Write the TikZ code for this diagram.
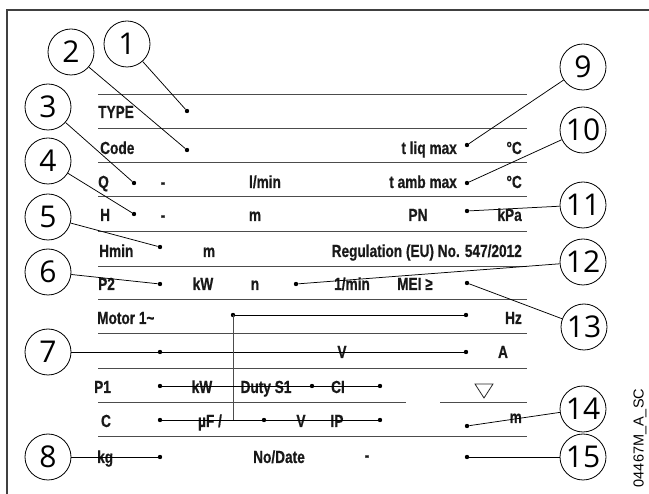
\documentclass[tikz,border=0pt]{standalone}
\usepackage{fontspec}
\setmainfont{Liberation Sans}
\newfontfamily\lblfam{Liberation Sans Bold}[FakeStretch=0.78, FakeBold=0.6]
\newfontfamily\numfam{Open Sans}
\newfontfamily\codefam{Liberation Sans}
\newcommand{\lblfont}{\lblfam\fontsize{17.5}{17.5}\selectfont}
\newcommand{\numfont}{\numfam\fontsize{30}{30}\selectfont}
\newcommand{\codefont}{\codefam\fontsize{14.5}{14.5}\selectfont}
\begin{document}
\begin{tikzpicture}[x=1pt,y=-1pt,
  lbl/.style={font=\lblfont, inner sep=0pt, text=black!90},
  lw/.style={lbl, anchor=base west},
  le/.style={lbl, anchor=base east},
  lc/.style={lbl, anchor=base},
  num/.style={circle, draw, minimum size=46pt, inner sep=0pt, font=\numfont, line width=0.8pt},
  dotn/.style={circle, fill, inner sep=0pt, minimum size=4.4pt},
  rowline/.style={line width=1pt, black!70},
  lead/.style={line width=0.75pt, black},
  frameline/.style={line width=2.6pt, black!75}
]
\useasboundingbox (0,0) rectangle (649,494);
% frame
\coordinate (fTL) at (7,10);
\coordinate (fBL) at (7,494);
\coordinate (fTR) at (649,10);
\draw[frameline] (fBL) -- (fTL) -- (fTR);

% row lines
\foreach \yy [count=\i] in {95,129,163,197,232,267,300,334,369,437} {
  \coordinate (rl\i) at (98,\yy);
  \coordinate (rr\i) at (527,\yy);
  \draw[rowline] (rl\i) -- (rr\i);
}
\coordinate (sA) at (98,403);
\coordinate (sB) at (406,403);
\coordinate (sC) at (440,403);
\coordinate (sD) at (527,403);
\draw[rowline] (sA) -- (sB);
\draw[rowline] (sC) -- (sD);

% texts
\node[lw] (tType) at (98,118) {TYPE};
\node[lw] (tCode) at (100,154) {Code};
\node[le] (tLiq) at (457,154) {t liq max};
\node[le] (tLiqC) at (522,154) {°C};

\node[lw] (tQ) at (98,188) {Q};
\node[lc] (tQd) at (163,188) {-};
\node[lc] (tQu) at (265,188) {l/min};
\node[le] (tAmb) at (457,188) {t amb max};
\node[le] (tAmbC) at (522,188) {°C};

\node[lw] (tH) at (100,221) {H};
\node[lc] (tHd) at (163,221) {-};
\node[lc] (tHm) at (255,221) {m};
\node[lc] (tPN) at (418,221) {PN};
\node[le] (tkPa) at (522,221) {kPa};

\node[lw] (tHmin) at (99,257) {Hmin};
\node[lc] (tHminm) at (209,257) {m};
\node[le] (tReg) at (522,257) {Regulation (EU) No. 547/2012};

\node[lw] (tP2) at (98,290) {P2};
\node[lc] (tP2kW) at (203,290) {kW};
\node[lc] (tn) at (255,290) {n};
\node[lc] (tnu) at (352,290) {1/min};
\node[lw] (tMEI) at (397,290) {MEI ≥};

\node[lw] (tMotor) at (97,324) {Motor 1\char`\~};
\node[le] (tHz) at (522,324) {Hz};

\node[lc] (tV7) at (342,358) {V};
\node[lc] (tA) at (503,358) {A};

\node[lw] (tP1) at (94,393) {P1};
\node[lc] (tP1kW) at (202,393) {kW};
\node[lc] (tDuty) at (266,393) {Duty S1};
\node[lc] (tCI) at (338,393) {CI};

\node[lc] (tC) at (106,427) {C};
\node[lc] (tuF) at (210,427) {µF /};
\node[lc] (tCV) at (301,427) {V};
\node[lc] (tIP) at (337,427) {IP};
\node[le] (tm14) at (522,423) {m};

\node[lw] (tkg) at (97,463) {kg};
\node[lc] (tNo) at (279,463) {No/Date};
\node[lc] (tNod) at (367,461) {-};

% triangle symbol
\draw[line width=0.8pt, black!85] (475,384) -- (493,384) -- (484,398) -- cycle;

% rotated code
\node[rotate=90, font=\codefont, inner sep=0pt] (tcode) at (640,438) {04467M\_A\_SC};

% circles
\node[num] (c1) at (127,44) {1};
\node[num] (c2) at (71,52) {2};
\node[num] (c3) at (48,107) {3};
\node[num] (c4) at (48,161) {4};
\node[num] (c5) at (48,217) {5};
\node[num] (c6) at (48,272) {6};
\node[num] (c7) at (48,352) {7};
\node[num] (c8) at (48,457) {8};
\node[num] (c9) at (583,67) {9};
\node[num] (c10) at (583,130) {10};
\node[num] (c11) at (583,205) {11};
\node[num] (c12) at (583,262) {12};
\node[num] (c13) at (584,327) {13};
\node[num] (c14) at (583,409) {14};
\node[num] (c15) at (583,457) {15};

% dots
\node[dotn] (d1) at (187,111) {};
\node[dotn] (d2) at (187,150) {};
\node[dotn] (d3) at (134,183) {};
\node[dotn] (d4) at (134,214) {};
\node[dotn] (d5) at (160,247) {};
\node[dotn] (d6) at (160,284) {};
\node[dotn] (d7a) at (160,352) {};
\node[dotn] (d7b) at (466,352) {};
\node[dotn] (d8) at (160,457) {};
\node[dotn] (d9) at (467,145) {};
\node[dotn] (d10) at (467,183) {};
\node[dotn] (d11) at (467,211) {};
\node[dotn] (d12) at (296,284) {};
\node[dotn] (d13) at (467,283) {};
\node[dotn] (d14) at (467,426) {};
\node[dotn] (d15) at (467,457) {};
\node[dotn] (dM1) at (233,315) {};
\node[dotn] (dM2) at (466,315) {};
\node[dotn] (dP1a) at (160,386) {};
\node[dotn] (dP1b) at (312,386) {};
\node[dotn] (dP1c) at (380,386) {};
\node[dotn] (dCa) at (160,420) {};
\node[dotn] (dCb) at (264,420) {};
\node[dotn] (dCc) at (380,420) {};
\coordinate (jC) at (233,420);

% leaders
\draw[lead] (c1) -- (d1);
\draw[lead] (c2) -- (d2);
\draw[lead] (c3) -- (d3);
\draw[lead] (c4) -- (d4);
\draw[lead] (c5) -- (d5);
\draw[lead] (c6) -- (d6);
\draw[lead] (c7) -- (d7b);
\draw[lead] (c8) -- (d8);
\draw[lead] (c9) -- (d9);
\draw[lead] (c10) -- (d10);
\draw[lead] (c11) -- (d11);
\draw[lead] (c12) -- (d12);
\draw[lead] (c13) -- (d13);
\draw[lead] (c14) -- (d14);
\draw[lead] (c15) -- (d15);
\draw[lead] (dM1) -- (dM2);
\draw[lead, black!70] (dM1.center) -- (jC);
\draw[lead] (dP1a) -- (dP1c);
\draw[lead] (dCa) -- (dCc);
\end{tikzpicture}
\end{document}
